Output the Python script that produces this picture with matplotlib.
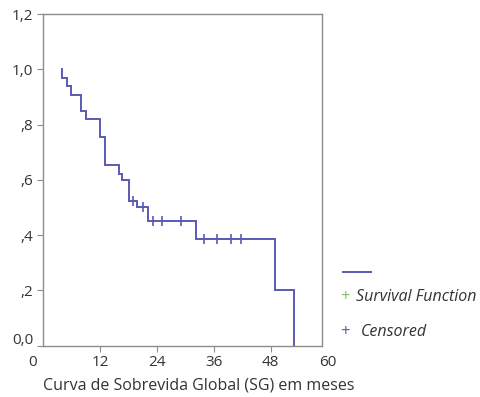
import matplotlib
matplotlib.use("Agg")
import matplotlib.pyplot as plt
from matplotlib.lines import Line2D
import matplotlib.transforms as mtransforms

plt.rcParams['font.family'] = ['Open Sans', 'DejaVu Sans']

# Kaplan-Meier step data (months, survival)
event_times = [4.03, 4.96, 5.93, 7.91, 8.97, 11.9, 13.0, 16.0, 16.6, 18.1, 19.7, 22.2, 32.2, 48.8, 53.0]
survival_after = [0.971, 0.942, 0.909, 0.849, 0.820, 0.755, 0.653, 0.623, 0.600, 0.524, 0.500, 0.451, 0.386, 0.200, 0.0]
censor_times = [19.0, 21.0, 23.2, 25.0, 29.0, 34.0, 36.7, 39.6, 41.8]
censor_surv = [0.524, 0.500, 0.451, 0.451, 0.451, 0.386, 0.386, 0.386, 0.386]

x_ticks = [0, 12, 24, 36, 48, 60]
x_ticklabels = ['0', '12', '24', '36', '48', '60']
y_ticks = [0.0, 0.2, 0.4, 0.6, 0.8, 1.0, 1.2]
y_ticklabels = ['0,0', ',2', ',4', ',6', ',8', '1,0', '1,2']

line_color = '#5a5ab4'
green = '#7cc462'
text_color = '#333333'
spine_color = '#8c8c8c'

fig = plt.figure(figsize=(4.81, 3.97), dpi=100)
ax = fig.add_axes([43.2/481, (397-345.5)/397, (321.7-43.2)/481, (345.5-14.3)/397])

# build step path
xs = [event_times[0]]
ys = [1.0]
prev = 1.0
for t, s in zip(event_times, survival_after):
    xs += [t, t]
    ys += [prev, s]
    prev = s
ax.plot(xs, ys, color=line_color, lw=1.4, solid_joinstyle='miter')
ax.plot(censor_times, censor_surv, linestyle='none', marker='|', markersize=7,
        markeredgewidth=1.2, color=line_color)

ax.set_xlim(0, 58.75)
ax.set_ylim(0, 1.195)
ax.set_xticks(x_ticks[1:-1])
ax.set_xticklabels(x_ticklabels[1:-1])
ax.set_yticks(y_ticks)
ax.set_yticklabels(y_ticklabels)
ax.tick_params(axis='both', colors=spine_color, labelcolor=text_color, labelsize=11,
               length=4, width=0.8, direction='out')
ax.tick_params(axis='x', pad=3)
ax.tick_params(axis='y', pad=3)
for sp in ax.spines.values():
    sp.set_color(spine_color)
    sp.set_linewidth(1.0)

# shift 0,0 label up slightly like reference
offset = mtransforms.ScaledTranslation(0, 7/100, fig.dpi_scale_trans)
for lab in ax.get_yticklabels():
    if lab.get_text() == '0,0':
        lab.set_transform(lab.get_transform() + offset)

# x labels '0' and '60' placed outside
tr = mtransforms.blended_transform_factory(ax.transData, ax.transAxes)
ax.text(x_ticks[0] - 2.2, -0.03, x_ticklabels[0], transform=tr, ha='center', va='top',
        fontsize=11, color=text_color, clip_on=False)
ax.text(x_ticks[-1], -0.03, x_ticklabels[-1], transform=tr, ha='center', va='top',
        fontsize=11, color=text_color, clip_on=False)

fig.text(43/481, 1 - 386/397, 'Curva de Sobrevida Global (SG) em meses', ha='left', va='center',
         fontsize=11.5, color=text_color)

# legend
fig.add_artist(Line2D([343/481, 371/481], [1 - 272/397, 1 - 272/397], color=line_color, lw=1.4))
fig.text(345/481, 1 - 297/397, '+', color=green, fontsize=12, ha='center', va='center')
fig.text(356/481, 1 - 297/397, 'Survival Function', color=text_color, fontsize=11.5,
         style='italic', ha='left', va='center')
fig.text(345/481, 1 - 332/397, '+', color=line_color, fontsize=12, ha='center', va='center')
fig.text(361/481, 1 - 332/397, 'Censored', color=text_color, fontsize=11.5,
         style='italic', ha='left', va='center')

fig.savefig('out.png', dpi=100)
